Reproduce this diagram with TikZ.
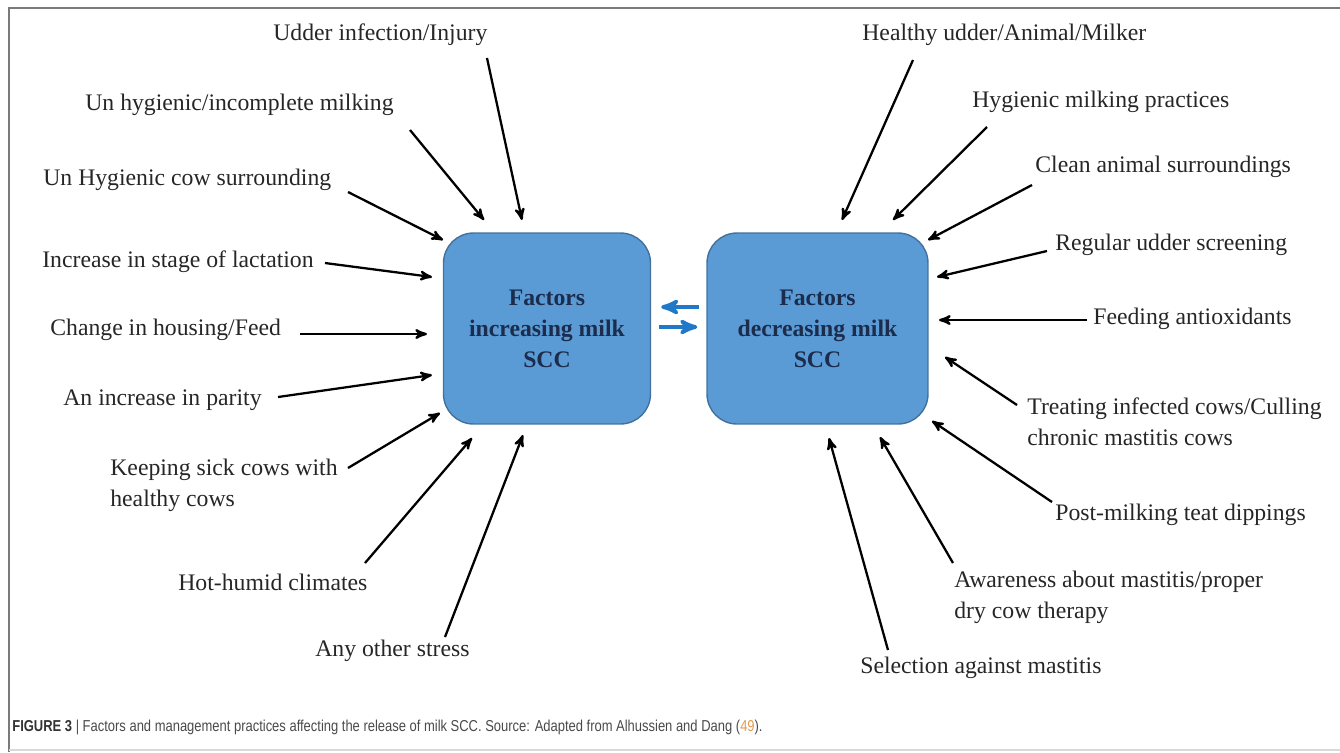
\documentclass[tikz,border=0pt]{standalone}
\usepackage{fontspec}
\setmainfont{Liberation Serif}
\newfontfamily\capfont[FakeStretch=0.82]{Liberation Sans}
\usetikzlibrary{arrows}
\definecolor{boxfill}{HTML}{5B9BD5}
\definecolor{boxedge}{HTML}{41719C}
\definecolor{boxtext}{HTML}{1C2C4C}
\definecolor{linkblue}{HTML}{1F78C8}
\definecolor{framegray}{HTML}{7A7A7A}
\definecolor{capgray}{HTML}{4A4A4A}
\definecolor{refcol}{HTML}{E39A4C}

\begin{document}
\begin{tikzpicture}[
    x=0.02cm,
    y=-0.02cm,
    >=stealth',
    factor/.style = {
      anchor = west,
      inner sep = 0pt,
      align = left,
      text = black!85,
      font = \fontsize{13.5}{17.5}\selectfont
    },
    sccbox/.style = {
      draw = boxedge,
      fill = boxfill,
      line width = 0.8pt,
      rounded corners = 0.6cm,
      minimum height = 3.82cm,
      align = center,
      text = boxtext,
      font = \fontsize{13.5}{17.6}\selectfont\bfseries
    },
    feed/.style = {
      ->,
      line width = 1.3pt
    },
    link/.style = {
      linkblue,
      line width = 2.2pt
    }
  ]
  \useasboundingbox (0,0) rectangle (1340,752);
  \draw[framegray, line width=1.2pt] (1340,8) -- (9,8) -- (9,752);
  \draw[black!15, line width=0.8pt] (9,750) -- (1340,750);

  \node[sccbox, minimum width=4.14cm] (inc) at (547,328.5) {Factors\\increasing milk\\SCC};
  \node[sccbox, minimum width=4.42cm] (dec) at (817.5,328.5) {Factors\\decreasing milk\\SCC};

  \draw[link, <-, shorten <=0.2cm, shorten >=0.14cm] ([yshift=0.43cm]inc.east) -- ([yshift=0.43cm]dec.west);
  \draw[link, ->, shorten <=0.16cm, shorten >=0.18cm] ([yshift=0.03cm]inc.east) -- ([yshift=0.03cm]dec.west);

  % increasing
  \node[factor] (udder) at (273,35) {Udder infection/Injury};
  \node[factor] (unmilk) at (85,105) {Un hygienic/incomplete milking};
  \node[factor] (unsurr) at (43,180) {Un Hygienic cow surrounding};
  \node[factor] (lact) at (42,262) {Increase in stage of lactation};
  \node[factor] (house) at (50,330) {Change in housing/Feed};
  \node[factor] (parity) at (63,400) {An increase in parity};
  \node[factor] (sick) at (110,485) {Keeping sick cows with\\healthy cows};
  \node[factor] (climate) at (178,582) {Hot-humid climates};
  \node[factor] (stress) at (315,651) {Any other stress};

  \coordinate (udder-s) at (487,58);    \coordinate (udder-t) at (522,220);
  \coordinate (unmilk-s) at (410,130);  \coordinate (unmilk-t) at (484,220);
  \coordinate (unsurr-s) at (348,192);  \coordinate (unsurr-t) at (443,240);
  \coordinate (lact-s) at (325,263);    \coordinate (lact-t) at (432,277);
  \coordinate (house-s) at (300,334);   \coordinate (house-t) at (427,334);
  \coordinate (parity-s) at (278,397);  \coordinate (parity-t) at (432,375);
  \coordinate (sick-s) at (348,468);    \coordinate (sick-t) at (440,413);
  \coordinate (climate-s) at (365,563); \coordinate (climate-t) at (472,438);
  \coordinate (stress-s) at (445,637);  \coordinate (stress-t) at (523,435);

  \foreach \f in {udder,unmilk,unsurr,lact,house,parity,sick,climate,stress}
    \draw[feed] (\f-s) -- (\f-t);

  % decreasing
  \node[factor] (healthy) at (862,35) {Healthy udder/Animal/Milker};
  \node[factor] (hygmilk) at (972,102) {Hygienic milking practices};
  \node[factor] (clean) at (1035,167) {Clean animal surroundings};
  \node[factor] (screen) at (1055,245) {Regular udder screening};
  \node[factor] (antiox) at (1093,319) {Feeding antioxidants};
  \node[factor] (treat) at (1027,422) {Treating infected cows/Culling\\chronic mastitis cows};
  \node[factor] (dip) at (1055,515) {Post-milking teat dippings};
  \node[factor] (aware) at (954,597) {Awareness about mastitis/proper\\dry cow therapy};
  \node[factor] (select) at (860,668) {Selection against mastitis};

  \coordinate (healthy-s) at (913,60);  \coordinate (healthy-t) at (842,220);
  \coordinate (hygmilk-s) at (987,127); \coordinate (hygmilk-t) at (893,220);
  \coordinate (clean-s) at (1032,185);  \coordinate (clean-t) at (928,240);
  \coordinate (screen-s) at (1047,251); \coordinate (screen-t) at (937,277);
  \coordinate (antiox-s) at (1087,320); \coordinate (antiox-t) at (939,320);
  \coordinate (treat-s) at (1017,405);  \coordinate (treat-t) at (945,357);
  \coordinate (dip-s) at (1052,502);    \coordinate (dip-t) at (932,421);
  \coordinate (aware-s) at (953,563);   \coordinate (aware-t) at (880,437);
  \coordinate (select-s) at (888,650);  \coordinate (select-t) at (829,438);

  \foreach \f in {healthy,hygmilk,clean,screen,antiox,treat,dip,aware,select}
    \draw[feed] (\f-s) -- (\f-t);

  \node[anchor=west, inner sep=0pt, text=capgray, font=\capfont\fontsize{9}{11}\selectfont] (caption) at (12,727)
    {\textbf{\color{black!80}FIGURE 3} | Factors and management practices affecting the release of milk SCC. Source: Adapted from Alhussien and Dang ({\color{refcol}49}).};
\end{tikzpicture}
\end{document}
